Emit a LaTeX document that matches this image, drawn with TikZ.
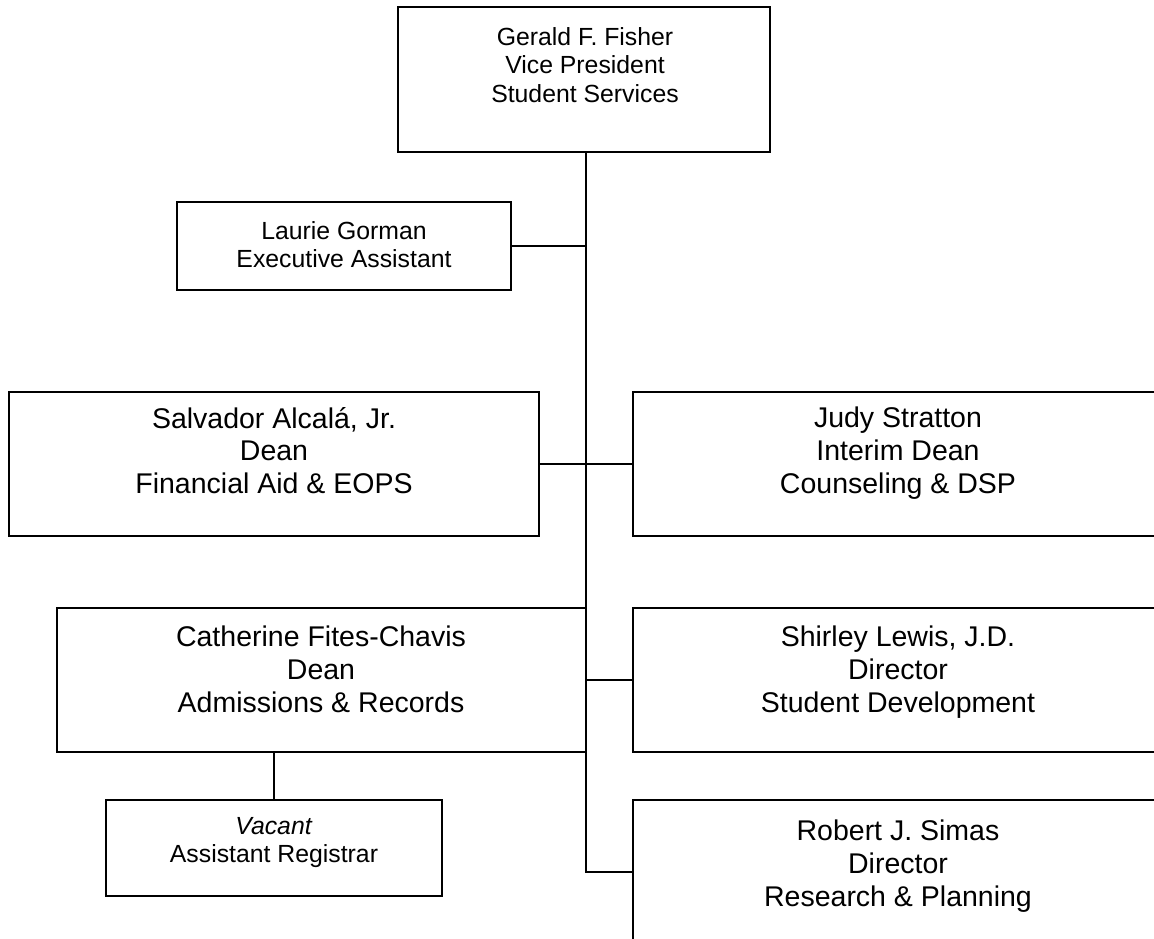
\documentclass[tikz,border=0pt]{standalone}
\usepackage{fontspec}
\setmainfont{Liberation Sans}
\usetikzlibrary{positioning}
\tikzset{
  orgbox/.style={draw,line width=2pt,inner sep=0pt,outer sep=0pt},
  orgtext/.style={align=center,inner sep=0pt,anchor=north,font=\fontsize{24.8}{28.5}\selectfont},
  bigtext/.style={orgtext,font=\fontsize{28.5}{32.8}\selectfont},
  orgline/.style={line width=2pt}
}

\begin{document}
\begin{tikzpicture}[x=1pt,y=-1pt]
  \useasboundingbox (0,0) rectangle (1154,938);
  % boxes
  \node[orgbox,minimum width=372pt,minimum height=145pt] (vp) at (584,79.5) {};
  \node[orgbox,minimum width=334pt,minimum height=88pt] (laurie) at (344,246) {};
  \node[orgbox,minimum width=530pt,minimum height=144pt] (salvador) at (274,464) {};
  \node[orgbox,minimum width=531pt,minimum height=144pt] (judy) at (898.5,464) {};
  \node[orgbox,minimum width=529pt,minimum height=144pt] (catherine) at (321.5,680) {};
  \node[orgbox,minimum width=531pt,minimum height=144pt] (shirley) at (898.5,680) {};
  \node[orgbox,minimum width=336pt,minimum height=96pt] (vacant) at (274,848) {};
  \node[orgbox,minimum width=531pt,minimum height=144pt] (robert) at (898.5,872) {};
  % texts
  \node[orgtext] (vp-t) at (585,27) {Gerald F. Fisher\\Vice President\\Student Services};
  \node[orgtext] (laurie-t) at (344,221) {Laurie Gorman\\Executive Assistant};
  \node[bigtext] (salvador-t) at (274,407) {Salvador Alcalá, Jr.\\Dean\\Financial Aid \& EOPS};
  \node[bigtext] (judy-t) at (898,407) {Judy Stratton\\Interim Dean\\Counseling \& DSP};
  \node[bigtext] (catherine-t) at (321,626) {Catherine Fites-Chavis\\Dean\\Admissions \& Records};
  \node[bigtext] (shirley-t) at (898,626) {Shirley Lewis, J.D.\\Director\\Student Development};
  \node[orgtext] (vacant-t) at (274,817) {\textit{Vacant}\\Assistant Registrar};
  \node[bigtext] (robert-t) at (898,820) {Robert J. Simas\\Director\\Research \& Planning};
  % connectors
  \coordinate (trunk) at (586,872);
  \draw[orgline] (vp.south -| trunk) -- (trunk) -- (robert.west);
  \draw[orgline] (laurie.east) -- (laurie.east -| trunk);
  \draw[orgline] (salvador.east) -- (judy.west);
  \draw[orgline] (shirley.west) -- (shirley.west -| trunk);
  \draw[orgline] (vacant.north |- catherine.south) -- (vacant.north);
\end{tikzpicture}
\end{document}
